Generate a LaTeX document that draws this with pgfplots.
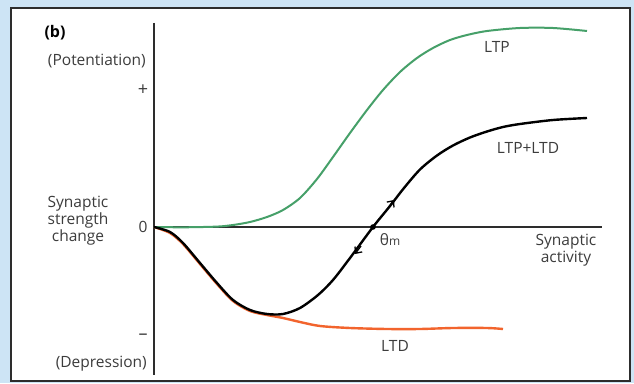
\documentclass[border=0pt]{standalone}
\usepackage{pgfplots}
\pgfplotsset{compat=1.18}
\usepackage{fontspec}
\setmainfont{Open Sans}
\usetikzlibrary{arrows.meta}
\definecolor{bgblue}{RGB}{205,228,245}
\definecolor{ltpgreen}{RGB}{70,160,105}
\definecolor{ltdorange}{RGB}{242,100,45}
\definecolor{axgray}{RGB}{45,45,45}
\definecolor{txtgray}{RGB}{60,60,60}
\begin{document}
\begin{tikzpicture}
\begin{axis}[x=1pt,y=1pt,xmin=-154,xmax=480,ymin=-156,ymax=227,hide axis,clip=false]
\fill[bgblue] (axis cs:-154,-156) rectangle (axis cs:480,227);
\draw[axgray, line width=1.5pt, fill=white] (axis cs:-143,-154) rectangle (axis cs:476,219);
\draw[axgray,line width=1.8pt] (axis cs:0,204) -- (axis cs:0,-148);
\draw[axgray,line width=1.2pt] (axis cs:0,0) -- (axis cs:448,0);
% LTD
\addplot[ltdorange, line width=2.4pt, smooth] coordinates {
(0,0) (16,-6) (29,-17) (46,-37) (63,-57) (79,-74) (96,-84) (113,-88) (129,-91) (146,-95) (166,-99) (196,-101) (233,-102) (266,-102) (299,-101) (333,-101) (349,-102)};
% LTP
\addplot[ltpgreen, line width=2pt, smooth] coordinates {
(0,0) (30,-0.3) (63,0.4) (79,2) (96,5) (113,10) (129,17) (146,29) (163,48) (179,70) (196,94) (213,117) (229,137) (246,155) (263,169) (279,179) (296,187) (313,192) (333,196) (366,199) (399,199) (433,196)};
% LTP+LTD
\addplot[black, line width=2.4pt, smooth] coordinates {
(0,0) (16,-5) (29,-16) (46,-36) (63,-56) (79,-73) (96,-83) (113,-87) (129,-87) (146,-81) (164,-68) (179,-53) (196,-31) (219,0) (236,21) (250,39) (266,57.5) (283,71.5) (299,81.5) (316,89.5) (333,95.5) (349,100) (366,103) (399,107) (433,109)};
\draw[black, line width=1.3pt, -{Straight Barb[length=5pt,width=9pt]}] (axis cs:234,19) -- (axis cs:240,27);
\draw[black, line width=1.3pt, -{Straight Barb[length=5pt,width=9pt]}] (axis cs:207,-19) -- (axis cs:201,-27);
\fill[black] (axis cs:219,0) circle[radius=2.8pt];
\tikzset{lab/.style={font=\fontsize{15.5}{17}\selectfont, text=txtgray, inner sep=0pt}}
\node[lab, font=\fontsize{16}{17}\selectfont\bfseries, text=black] at (axis cs:-99,194) {(b)};
\node[lab, anchor=east] at (axis cs:-8,166) {(Potentiation)};
\node[lab, font=\fontsize{18}{18}\selectfont] at (axis cs:-11,137) {+};
\node[lab] at (axis cs:-11,0) {0};
\node[lab, font=\fontsize{18}{18}\selectfont] at (axis cs:-11,-110) {–};
\node[lab, anchor=east] at (axis cs:-7,-137) {(Depression)};
\node[lab, align=center] at (axis cs:-76,6) {Synaptic\\strength\\change};
\node[lab] at (axis cs:343,180) {LTP};
\node[lab] at (axis cs:374,79) {LTP+LTD};
\node[lab] at (axis cs:236,-13) {θ{\fontsize{12}{12}\selectfont m}};
\node[lab, align=center] at (axis cs:412,-23) {Synaptic\\activity};
\node[lab] at (axis cs:241,-119) {LTD};
\end{axis}
\end{tikzpicture}
\end{document}
